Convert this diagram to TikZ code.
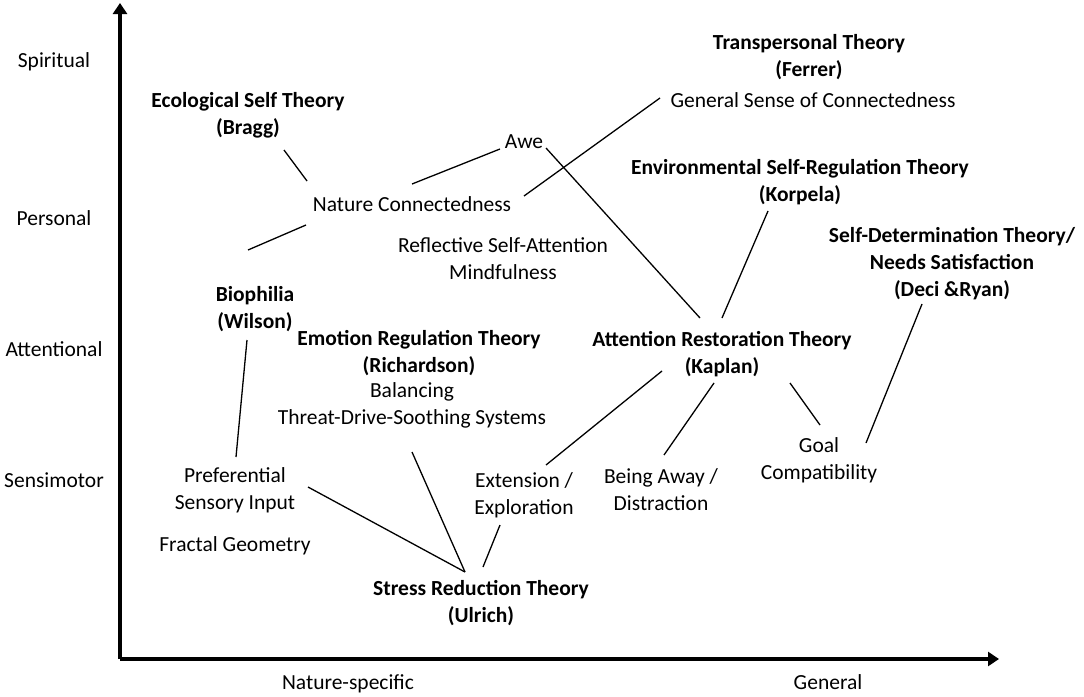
\documentclass[tikz,border=0pt]{standalone}
\usepackage{fontspec}
\setmainfont{Carlito}
\usetikzlibrary{arrows.meta}
\begin{document}
\begin{tikzpicture}[x=1pt,y=-1pt,
  txt/.style={font=\fontsize{21.5}{27}\selectfont, align=center, inner sep=0pt},
  bld/.style={font=\fontsize{21.5}{27}\selectfont\bfseries, align=center, inner sep=0pt},
  link/.style={line width=1.3pt},
  axisline/.style={line width=3.2pt, -{Triangle[length=11pt,width=14pt]}}]
\useasboundingbox (0,0) rectangle (1084,696);
% axes
\coordinate (origin) at (120,659);
\coordinate (ytip) at (120,3);
\coordinate (xtip) at (999,659);
\draw[axisline] (origin) -- (ytip);
\draw[axisline] (origin) -- (xtip);
% axis labels
\node[txt] (spiritual) at (54,62) {Spiritual};
\node[txt] (personal) at (54,218) {Personal};
\node[txt] (attentional) at (54,349) {Attentional};
\node[txt] (sensimotor) at (54,480) {Sensimotor};
\node[txt,anchor=base] (natspec) at (348,689) {Nature-specific};
\node[txt,anchor=base] (general) at (828,689) {General};
% content nodes
\node[bld] (bragg) at (248,115) {Ecological Self Theory\\(Bragg)};
\node[bld] (ferrer) at (809,57) {Transpersonal Theory\\(Ferrer)};
\node[txt] (gsc) at (813,100) {General Sense of Connectedness};
\node[txt] (awe) at (524,142) {Awe};
\node[txt] (nc) at (412,204) {Nature Connectedness};
\node[bld] (korpela) at (800,182) {Environmental Self-Regulation Theory\\(Korpela)};
\node[txt] (rsa) at (503,259) {Reflective Self-Attention\\Mindfulness};
\node[bld] (deci) at (952,264) {Self-Determination Theory/\\Needs Satisfaction\\(Deci \&Ryan)};
\node[bld] (bio) at (255,309) {Biophilia\\(Wilson)};
\node[bld] (ert) at (419,353) {Emotion Regulation Theory\\(Richardson)};
\node[txt] (tds) at (412,405) {Balancing\\Threat-Drive-Soothing Systems};
\node[bld] (art) at (722,354) {Attention Restoration Theory\\(Kaplan)};
\node[txt] (goal) at (819,460) {Goal\\Compatibility};
\node[txt] (pref) at (235,490) {Preferential\\Sensory Input};
\node[txt] (fractal) at (235,546) {Fractal Geometry};
\node[txt] (ext) at (524,495) {Extension /\\Exploration};
\node[txt] (away) at (661,490) {Being Away /\\Distraction};
\node[bld] (srt) at (481,603) {Stress Reduction Theory\\(Ulrich)};
% connector end points
\coordinate (bragg-e) at (284,150);
\coordinate (nc-nw) at (307,181);
\coordinate (nc-sw) at (306,225);
\coordinate (bio-n) at (248,250);
\coordinate (nc-ne) at (412,184);
\coordinate (awe-w) at (500,149);
\coordinate (nc-e) at (524,196);
\coordinate (gsc-w) at (660,98);
\coordinate (awe-e) at (546,148);
\coordinate (art-n1) at (700,318);
\coordinate (korpela-s) at (768,211);
\coordinate (art-n2) at (722,318);
\coordinate (deci-s) at (922,304);
\coordinate (goal-ne) at (866,443);
\coordinate (art-sw) at (662,371);
\coordinate (ext-ne) at (546,465);
\coordinate (art-s) at (714,383);
\coordinate (away-n) at (664,455);
\coordinate (art-se) at (790,383);
\coordinate (goal-n) at (820,425);
\coordinate (bio-s) at (247,340);
\coordinate (pref-n) at (236,457);
\coordinate (pref-e) at (308,487);
\coordinate (srt-n1) at (465,572);
\coordinate (tds-s) at (412,452);
\coordinate (ext-s) at (500,525);
\coordinate (srt-n2) at (483,567);
% connectors
\draw[link] (bragg-e) -- (nc-nw);
\draw[link] (nc-sw) -- (bio-n);
\draw[link] (nc-ne) -- (awe-w);
\draw[link] (nc-e) -- (gsc-w);
\draw[link] (awe-e) -- (art-n1);
\draw[link] (korpela-s) -- (art-n2);
\draw[link] (deci-s) -- (goal-ne);
\draw[link] (art-sw) -- (ext-ne);
\draw[link] (art-s) -- (away-n);
\draw[link] (art-se) -- (goal-n);
\draw[link] (bio-s) -- (pref-n);
\draw[link] (pref-e) -- (srt-n1);
\draw[link] (tds-s) -- (srt-n1);
\draw[link] (ext-s) -- (srt-n2);
\end{tikzpicture}
\end{document}
